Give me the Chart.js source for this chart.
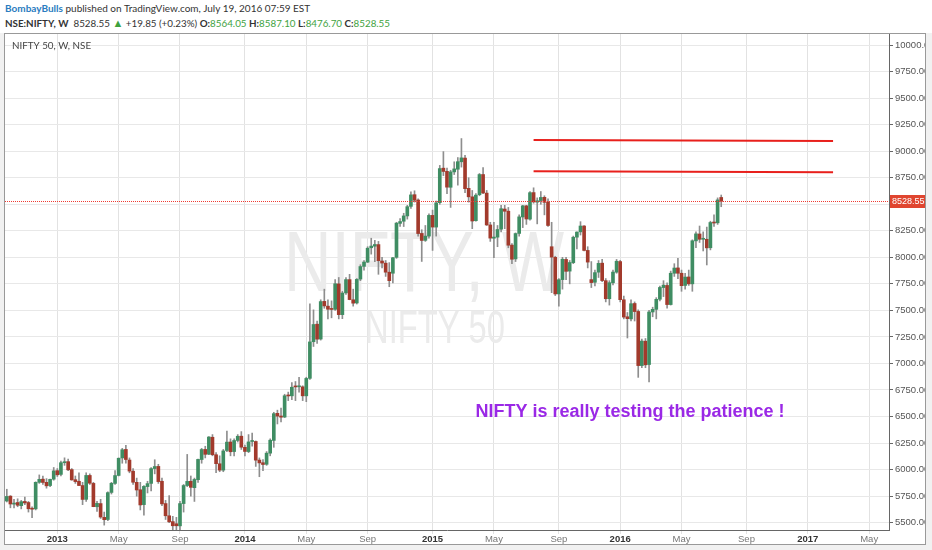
<!DOCTYPE html>
<html>
<head>
<meta charset="utf-8">
<script src="https://cdn.jsdelivr.net/npm/chart.js@4.4.0/dist/chart.umd.min.js"></script>
<style>
  body { margin: 0; width: 932px; height: 550px; overflow: hidden; background: #f1f1f1; font-family: Lato, "Open Sans", sans-serif; }
  #head { position: absolute; left: 0; top: 0; width: 932px; height: 33px; background: #fff; }
  .ln { position: absolute; left: 5px; color: #333; white-space: nowrap; }
  .l1 { top: 2px; font-size: 10px; }
  .l2 { top: 16px; font-size: 9.8px; }
  .user { color: #2a7cc0; font-weight: bold; }
  .g { color: #3ea23e; }
  .tri { color: #3ea23e; font-size: 11px; }
  #box { position: absolute; left: 4px; top: 33px; width: 920px; height: 510px; border: 1px solid #999; background: #fff; }
  canvas { display: block; }
</style>
</head>
<body>
<div id="head">
  <div class="ln l1"><span class="user">BombayBulls</span> published on TradingView.com, July 19, 2016 07:59 EST</div>
  <div class="ln l2"><b>NSE:NIFTY, W</b>&nbsp; 8528.55 <span class="tri">&#9650;</span> +19.85 (+0.23%) <b>O:</b><span class="g">8564.05</span> <b>H:</b><span class="g">8587.10</span> <b>L:</b><span class="g">8476.70</span> <b>C:</b><span class="g">8528.55</span></div>
</div>
<div id="box"><canvas id="myChart" width="920" height="510"></canvas></div>
<script>
//* weekly bars, first one is the week of 1 Oct 2012
const firstWeek = Date.UTC(2012, 9, 1);
const barCount = 245; // includes empty future weeks on the right

const open = [
  5704, 5750, 5675, 5690, 5660, 5700, 5690, 5630, 5630, 5880, 5910, 5880, 5850, 5910,
  5990, 5955, 6065, 6075, 6000, 5905, 5890, 5850, 5720, 5945, 5870, 5650, 5680, 5550, 5530, 5785, 5870, 5945, 6110, 6190, 6090, 5985, 5880, 5810, 5670, 5840,
  5870, 6010, 6030, 5890, 5680, 5565, 5510, 5490, 5470, 5680, 5850, 5890, 5830, 5905, 6095, 6190, 6145, 6305, 6140, 6055, 5995, 6180, 6260, 6170, 6275, 6315,
  6210, 6170, 6265, 6265, 6090, 6065, 6050, 6155, 6275, 6530, 6505, 6495, 6700, 6695, 6780, 6780, 6780, 6695, 6860, 7205, 7370, 7230, 7585, 7540, 7510, 7510,
  7750, 7460, 7665, 7790, 7600, 7570, 7795, 7915, 7955, 8090, 8105, 8120, 7965, 7945, 7860, 7850, 8000, 8320, 8340, 8390, 8480, 8590, 8540, 8225, 8160, 8200,
  8395, 8285, 8515, 8840, 8810, 8660, 8805, 8830, 8900, 8935, 8650, 8570, 8345, 8590, 8780, 8605, 8305, 8180, 8190, 8265, 8455, 8435, 8115, 7985, 8225, 8380,
  8485, 8360, 8610, 8520, 8535, 8565, 8520, 8100, 8000, 7655, 7790, 7980, 7870, 7950, 8190, 8240, 8295, 8065, 7790, 7765, 7860, 7945, 7780, 7610, 7760, 7860,
  7960, 7600, 7440, 7420, 7565, 7490, 6980, 7210, 6990, 7485, 7510, 7605, 7715, 7735, 7555, 7850, 7900, 7850, 7735, 7815, 7750, 8155, 8220, 8170, 8170, 8090,
  8330, 8325, 8564.05
];
const high = [
  5815, 5755, 5720, 5725, 5710, 5740, 5700, 5650, 5885, 5950, 5940, 5915, 5910, 6020,
  6010, 6080, 6111, 6100, 6010, 5940, 5970, 5880, 5970, 5960, 5880, 5700, 5720, 5600, 5790, 5880, 5990, 6110, 6200, 6229, 6110, 6010, 5920, 5880, 5850, 5890,
  6020, 6093, 6050, 5920, 5710, 5755, 5560, 5550, 5700, 5860, 6143, 5940, 5920, 6100, 6200, 6220, 6310, 6330, 6160, 6130, 6190, 6363, 6290, 6290, 6330, 6358,
  6230, 6330, 6345, 6270, 6110, 6095, 6170, 6290, 6540, 6560, 6580, 6710, 6730, 6820, 6830, 6870, 6790, 6870, 7563, 7505, 7400, 7600, 7700, 7600, 7590, 7790,
  7810, 7680, 7810, 7840, 7700, 7800, 7930, 7970, 8100, 8180, 8160, 8150, 8000, 7970, 7950, 8000, 8330, 8365, 8415, 8490, 8617, 8627, 8550, 8260, 8300, 8410,
  8445, 8530, 8866, 8996, 8840, 8820, 8900, 8940, 9119, 8960, 8750, 8630, 8600, 8790, 8845, 8630, 8330, 8330, 8300, 8490, 8490, 8470, 8130, 8230, 8400, 8490,
  8490, 8620, 8655, 8560, 8620, 8580, 8550, 8330, 8010, 7800, 8000, 8000, 7970, 8200, 8240, 8336, 8300, 8100, 7960, 7880, 7970, 7980, 7800, 7780, 7880, 7980,
  7972, 7635, 7480, 7600, 7580, 7505, 7230, 7235, 7500, 7530, 7620, 7730, 7780, 7760, 7870, 7940, 7990, 7880, 7850, 7880, 8165, 8240, 8295, 8240, 8285, 8340,
  8400, 8560, 8587.10
];
const low = [
  5695, 5640, 5640, 5650, 5630, 5670, 5600, 5548, 5620, 5870, 5860, 5825, 5840, 5900,
  5935, 5940, 6040, 5990, 5900, 5870, 5850, 5670, 5700, 5860, 5650, 5605, 5540, 5477, 5520, 5770, 5860, 5940, 6060, 6060, 5970, 5860, 5750, 5620, 5570, 5780,
  5800, 5960, 5870, 5660, 5530, 5500, 5260, 5118, 5380, 5600, 5840, 5750, 5700, 5880, 6060, 6110, 6140, 6130, 5970, 5980, 5980, 6170, 6130, 6130, 6260, 6190,
  6130, 6160, 6220, 6030, 5933, 5990, 6040, 6130, 6210, 6430, 6450, 6490, 6650, 6660, 6650, 6730, 6650, 6640, 6850, 7160, 7190, 7220, 7520, 7420, 7430, 7500,
  7420, 7422, 7650, 7600, 7540, 7560, 7780, 7880, 7950, 8030, 7960, 7840, 7900, 7820, 7723, 7760, 7990, 8290, 8290, 8360, 8460, 8520, 8200, 7961, 8150, 8180,
  8065, 8200, 8500, 8770, 8600, 8470, 8780, 8680, 8850, 8610, 8520, 8270, 8340, 8580, 8600, 8300, 8150, 7997, 8100, 8240, 8270, 8090, 7940, 7960, 8200, 8280,
  8310, 8350, 8510, 8315, 8500, 8400, 8290, 7667, 7640, 7540, 7700, 7790, 7750, 7940, 8080, 8210, 8060, 7900, 7715, 7730, 7810, 7770, 7580, 7550, 7740, 7850,
  7580, 7420, 7240, 7400, 7400, 6869, 6960, 6960, 6825, 7440, 7420, 7590, 7630, 7520, 7550, 7820, 7800, 7680, 7700, 7735, 7680, 8090, 8140, 8060, 7928, 8070,
  8290, 8310, 8476.70
];
const close = [
  5747, 5676, 5684, 5664, 5698, 5686, 5631, 5627, 5880, 5908, 5879, 5847, 5908, 5988,
  5951, 6065, 6074, 5998, 5903, 5887, 5850, 5719, 5945, 5872, 5651, 5682, 5553, 5528, 5783, 5871, 5944, 6107, 6187, 6095, 5986, 5881, 5808, 5667, 5842, 5868,
  6009, 6029, 5887, 5677, 5565, 5508, 5471, 5471, 5680, 5850, 5889, 5833, 5907, 6096, 6189, 6144, 6307, 6140, 6056, 5995, 6176, 6259, 6168, 6274, 6314, 6211,
  6171, 6261, 6266, 6089, 6063, 6048, 6155, 6277, 6527, 6504, 6494, 6696, 6694, 6776, 6779, 6782, 6695, 6859, 7203, 7367, 7229, 7583, 7542, 7511, 7509, 7751,
  7460, 7664, 7790, 7602, 7568, 7792, 7913, 7955, 8086, 8106, 8121, 7968, 7946, 7860, 7780, 7996, 8322, 8337, 8390, 8477, 8588, 8538, 8224, 8159, 8200, 8395,
  8285, 8513, 8836, 8809, 8661, 8805, 8833, 8901, 8937, 8647, 8570, 8342, 8586, 8780, 8606, 8305, 8181, 8191, 8262, 8458, 8434, 8114, 7982, 8224, 8381, 8485,
  8361, 8609, 8522, 8533, 8564, 8518, 8300, 8002, 7655, 7789, 7982, 7868, 7951, 8189, 8238, 8295, 8065, 7955, 7762, 7856, 7943, 7781, 7610, 7761, 7861, 7963,
  7601, 7437, 7422, 7563, 7489, 6980, 7211, 6987, 7485, 7510, 7604, 7716, 7738, 7555, 7850, 7899, 7850, 7733, 7814, 7750, 8156, 8221, 8170, 8170, 8089, 8328,
  8323, 8541, 8528.55
];

//? drawn resistance lines: [start week, end week, start price, end price]
const resistance = [
  [146, 229, 9105, 9095],
  [146, 229, 8812, 8801]
];
const monthNames = { 4: "May", 8: "Sep" };
const priceTicks = { min: 5431, max: 10104, step: 250 };

//* week labels and time axis marks (Jan -> year, May, Sep)
let weeks = [];
for (let i = 0; i < barCount; i++) {
  weeks.push(new Date(firstWeek + i * 7 * 86400000).toISOString().slice(0, 10));
}
let marks = {};
for (let i = 1; i < barCount; i++) {
  let m = +weeks[i].slice(5, 7) - 1;
  let pm = +weeks[i - 1].slice(5, 7) - 1;
  if (m !== pm && (m === 0 || monthNames[m])) {
    marks[i] = m === 0 ? weeks[i].slice(0, 4) : monthNames[m];
  }
}

const upColor = "#3f8d63";
const downColor = "#a23a2c";
const bodyColors = open.map((o, i) => (close[i] >= o ? upColor : downColor));
const lastClose = close[close.length - 1];

function drawFit(ctx, text, cx, baseline, size, width) {
  ctx.save();
  ctx.font = size + 'px "Liberation Sans"';
  let w = ctx.measureText(text).width;
  ctx.translate(cx, baseline);
  ctx.scale(width / w, 1);
  ctx.textAlign = "center";
  ctx.textBaseline = "alphabetic";
  ctx.fillText(text, 0, 0);
  ctx.restore();
}

const overlay = {
  id: "overlay",
  beforeDatasetsDraw(chart) {
    const ctx = chart.ctx;
    ctx.save();
    ctx.fillStyle = "#ebebeb";
    drawFit(ctx, "NIFTY, W", 419, 257, 86, 280);
    drawFit(ctx, "NIFTY 50", 430, 309, 47, 140);
    ctx.fillStyle = "#444";
    ctx.font = '9.8px Lato';
    ctx.textBaseline = "middle";
    ctx.fillText("NIFTY 50, W, NSE", 7, 12);
    ctx.restore();
  },
  afterDatasetsDraw(chart) {
    const ctx = chart.ctx;
    const a = chart.chartArea;
    const y = Math.round(chart.scales.y.getPixelForValue(lastClose));
    ctx.save();
    //* dotted last price line, pixel dots
    ctx.fillStyle = "#ef3b33";
    for (let x = Math.round(a.left); x < a.right; x += 2) {
      ctx.fillRect(x, y, 1, 1);
    }
    //* note text
    ctx.fillStyle = "#9a28e6";
    ctx.font = 'bold 18px "Liberation Sans"';
    ctx.textAlign = "center";
    ctx.textBaseline = "middle";
    ctx.fillText("NIFTY is really testing the patience !", 625, 378);
    ctx.restore();
  },
  afterDraw(chart) {
    const ctx = chart.ctx;
    const a = chart.chartArea;
    const y = Math.round(chart.scales.y.getPixelForValue(lastClose));
    ctx.save();
    ctx.fillStyle = "#e0452f";
    ctx.fillRect(a.right + 1, y - 6, 40, 13);
    ctx.fillStyle = "#fff";
    ctx.font = '9px "Liberation Sans"';
    ctx.textBaseline = "middle";
    ctx.fillText(lastClose.toFixed(2), a.right + 3, y + 0.5);
    ctx.restore();
  }
};

function timeGrid(c) {
  return marks[c.index] ? "#e2e2e2" : "rgba(0,0,0,0)";
}

function createGraph() {
  const ctx = document.querySelector("#myChart").getContext("2d");
  Chart.defaults.font.family = '"Liberation Sans", Arial, sans-serif';

  let lineSets = resistance.map((r) => ({
    type: "line",
    data: [{ x: weeks[r[0]], y: r[2] }, { x: weeks[r[1]], y: r[3] }],
    borderColor: "#e8201c",
    borderWidth: 2,
    pointRadius: 0,
    order: 0
  }));

  const data = {
    labels: weeks,
    datasets: [
      {
        data: low.map((l, i) => [l, high[i]]),
        backgroundColor: "#8e8e8e",
        barThickness: 1,
        grouped: false,
        order: 2
      },
      {
        data: open.map((o, i) => [o, close[i]]),
        backgroundColor: bodyColors,
        barThickness: 3,
        minBarLength: 1,
        grouped: false,
        order: 1
      }
    ].concat(lineSets)
  };

  const config = {
    type: "bar",
    data: data,
    options: {
      responsive: false,
      animation: false,
      layout: { padding: 0 },
      plugins: { legend: { display: false }, tooltip: { enabled: false } },
      scales: {
        x: {
          offset: true,
          grid: { offset: false, color: timeGrid, tickColor: timeGrid, tickLength: 4 },
          border: { color: "#666" },
          ticks: {
            autoSkip: false,
            maxRotation: 0,
            minRotation: 0,
            padding: 0,
            callback: (v, i) => marks[i] || "",
            font: (c) => ({ size: 9.5, weight: /^\d/.test(marks[c.index] || "") ? "bold" : "normal" }),
            color: (c) => (/^\d/.test(marks[c.index] || "") ? "#333" : "#777")
          },
          afterFit: (s) => { s.height = 14; s.paddingLeft = 0; s.paddingRight = 0; }
        },
        y: {
          position: "right",
          min: priceTicks.min,
          max: priceTicks.max,
          grid: { color: "#e8e8e8", tickColor: "#666", tickLength: 4 },
          border: { color: "#666" },
          ticks: {
            stepSize: priceTicks.step,
            includeBounds: false,
            padding: 2,
            color: "#555",
            font: { size: 9.5 },
            callback: (v) => v.toFixed(2)
          },
          afterFit: (s) => { s.width = 36; s.paddingTop = 0; s.paddingBottom = 0; }
        }
      }
    },
    plugins: [overlay]
  };
  const myChart = new Chart(ctx, config);
}

createGraph();
</script>
</body>
</html>
